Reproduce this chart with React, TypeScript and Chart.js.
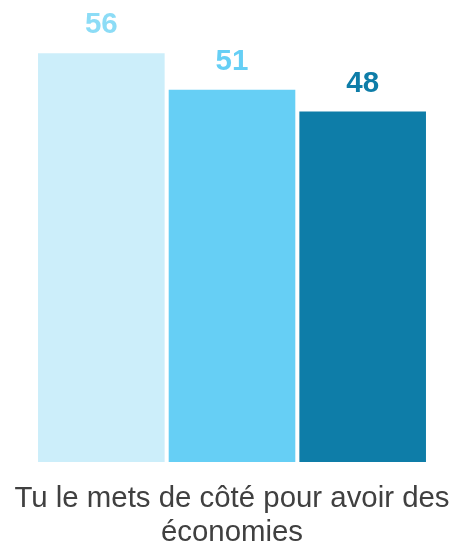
import React, { useEffect, useRef } from "react";
import { Chart, registerables } from "chart.js";

Chart.register(...registerables);

const categories: string[][] = [["Tu le mets de côté pour avoir des", "économies"]];
const seriesNames: string[] = ["Série 1", "Série 2", "Série 3"];
const seriesValues: number[] = [56, 51, 48];
const barColors: string[] = ["#CCEEFA", "#66CFF5", "#0E7DA8"];
const labelColors: string[] = ["#8CDCF6", "#66CFF5", "#0E7DA8"];

const FONT = "Arial, 'Liberation Sans', sans-serif";

const valueLabels = {
  id: "valueLabels",
  afterDatasetsDraw(chart: any) {
    const ctx = chart.ctx;
    ctx.save();
    ctx.font = `bold 29.5px ${FONT}`;
    ctx.textAlign = "center";
    ctx.textBaseline = "alphabetic";
    chart.data.datasets.forEach((ds: any, i: number) => {
      const meta = chart.getDatasetMeta(i);
      meta.data.forEach((el: any, j: number) => {
        ctx.fillStyle = labelColors[i];
        ctx.fillText(String(ds.data[j]), el.x, el.y - 20);
      });
    });
    ctx.restore();
  },
};

export default function App() {
  const ref = useRef<HTMLCanvasElement | null>(null);
  useEffect(() => {
    if (!ref.current) return;
    const chart = new Chart(ref.current, {
      type: "bar",
      data: {
        labels: categories,
        datasets: seriesValues.map((v, i) => ({
          label: seriesNames[i],
          data: [v],
          backgroundColor: barColors[i],
          borderWidth: 0,
          categoryPercentage: 1,
          barPercentage: 0.969,
        })),
      },
      options: {
        animation: false,
        responsive: false,
        layout: { padding: { left: 36, right: 29, top: 24, bottom: 0 } },
        plugins: { legend: { display: false }, tooltip: { enabled: false } },
        scales: {
          x: {
            grid: { display: false, drawTicks: false },
            border: { display: false },
            ticks: {
              color: "#404040",
              padding: 20,
              maxRotation: 0,
              autoSkip: false,
              font: { family: FONT, size: 29.4, lineHeight: 1.15 },
            },
            afterFit: (scale: any) => {
              scale.paddingLeft = 0;
              scale.paddingRight = 0;
              scale.height = 84;
            },
          },
          y: { display: false, min: 0, max: 60 },
        },
      },
      plugins: [valueLabels],
    });
    return () => chart.destroy();
  }, []);
  return (
    <div style={{ position: "absolute", left: 0, top: 0, width: 457, height: 546, background: "#fff" }}>
      <canvas ref={ref} width={457} height={546} />
    </div>
  );
}
